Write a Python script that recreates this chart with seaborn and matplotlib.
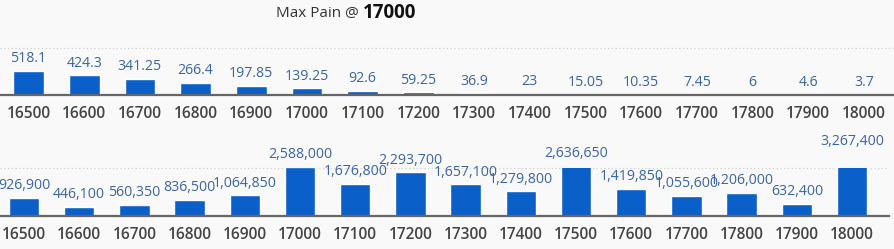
import matplotlib
matplotlib.use("Agg")
import matplotlib.pyplot as plt
import seaborn as sns
import pandas as pd

strikes = ["16500", "16600", "16700", "16800", "16900", "17000", "17100", "17200",
           "17300", "17400", "17500", "17600", "17700", "17800", "17900", "18000"]
pain_values = [518.1, 424.3, 341.25, 266.4, 197.85, 139.25, 92.6, 59.25,
               36.9, 23, 15.05, 10.35, 7.45, 6, 4.6, 3.7]
oi_values = [926900, 446100, 560350, 836500, 1064850, 2588000, 1676800, 2293700,
             1657100, 1279800, 2636650, 1419850, 1055600, 1206000, 632400, 3267400]
title_prefix = "Max Pain @ "
title_strike = "17000"

BG = "#f9f9f9"
BAR = "#0a5fc8"
LBL = "#3a64a2"
TICK = "#444444"

sns.set_style("white")
plt.rcParams["font.family"] = ["Open Sans", "DejaVu Sans"]

fig = plt.figure(figsize=(8.94, 2.49), dpi=100, facecolor=BG)

W, H = 894.0, 249.0


def make_axes(left_px, right_px, base_px, grid_px):
    return fig.add_axes([left_px / W, (H - base_px) / H,
                         (right_px - left_px) / W, (base_px - grid_px) / H])


def draw_panel(ax, values, ymax, xlim, fmt):
    df = pd.DataFrame({"strike": strikes, "value": values})
    sns.barplot(data=df, x="strike", y="value", order=strikes, color=BAR,
                saturation=1, width=0.55, ax=ax, zorder=3)
    ax.set_facecolor(BG)
    ax.set_xlim(*xlim)
    ax.set_ylim(0, ymax)
    ax.set_xlabel("")
    ax.set_ylabel("")
    ax.set_yticks([])
    ax.axhline(ymax, color="#cfcfcf", lw=0.9, ls=(0, (1, 2)), zorder=1, clip_on=False)
    for s in ["top", "left", "right"]:
        ax.spines[s].set_visible(False)
    ax.spines["bottom"].set_color("#666666")
    ax.spines["bottom"].set_linewidth(1.6)
    ax.spines["bottom"].set_zorder(4)
    ax.tick_params(axis="x", length=0, pad=8, labelsize=11.2, labelcolor=TICK)
    for t in ax.get_xticklabels():
        t.set_fontweight("semibold")
    for i, v in enumerate(values):
        ax.annotate(fmt(v), xy=(i, v), xytext=(0, 6.2), textcoords="offset points",
                    ha="center", va="baseline", fontsize=10.2, color=LBL,
                    annotation_clip=False, zorder=5)


ax1 = make_axes(0, 894, 95, 48.3)
draw_panel(ax1, pain_values, 1000, (-0.512, 15.54), lambda v: f"{v:g}")

ax2 = make_axes(0, 889, 215.5, 168.3)
draw_panel(ax2, oi_values, 2500000, (-0.435, 15.67), lambda v: f"{v:,}")

ty = 1 - 13.0 / H
fig.text(359 / W, ty, title_prefix.strip(), ha="right", va="center",
         fontsize=11, color="#333333")
fig.text(363 / W, ty, title_strike, ha="left", va="center",
         fontsize=13.5, fontweight="bold", color="#111111")

fig.savefig("out.png", dpi=100, facecolor=BG)
